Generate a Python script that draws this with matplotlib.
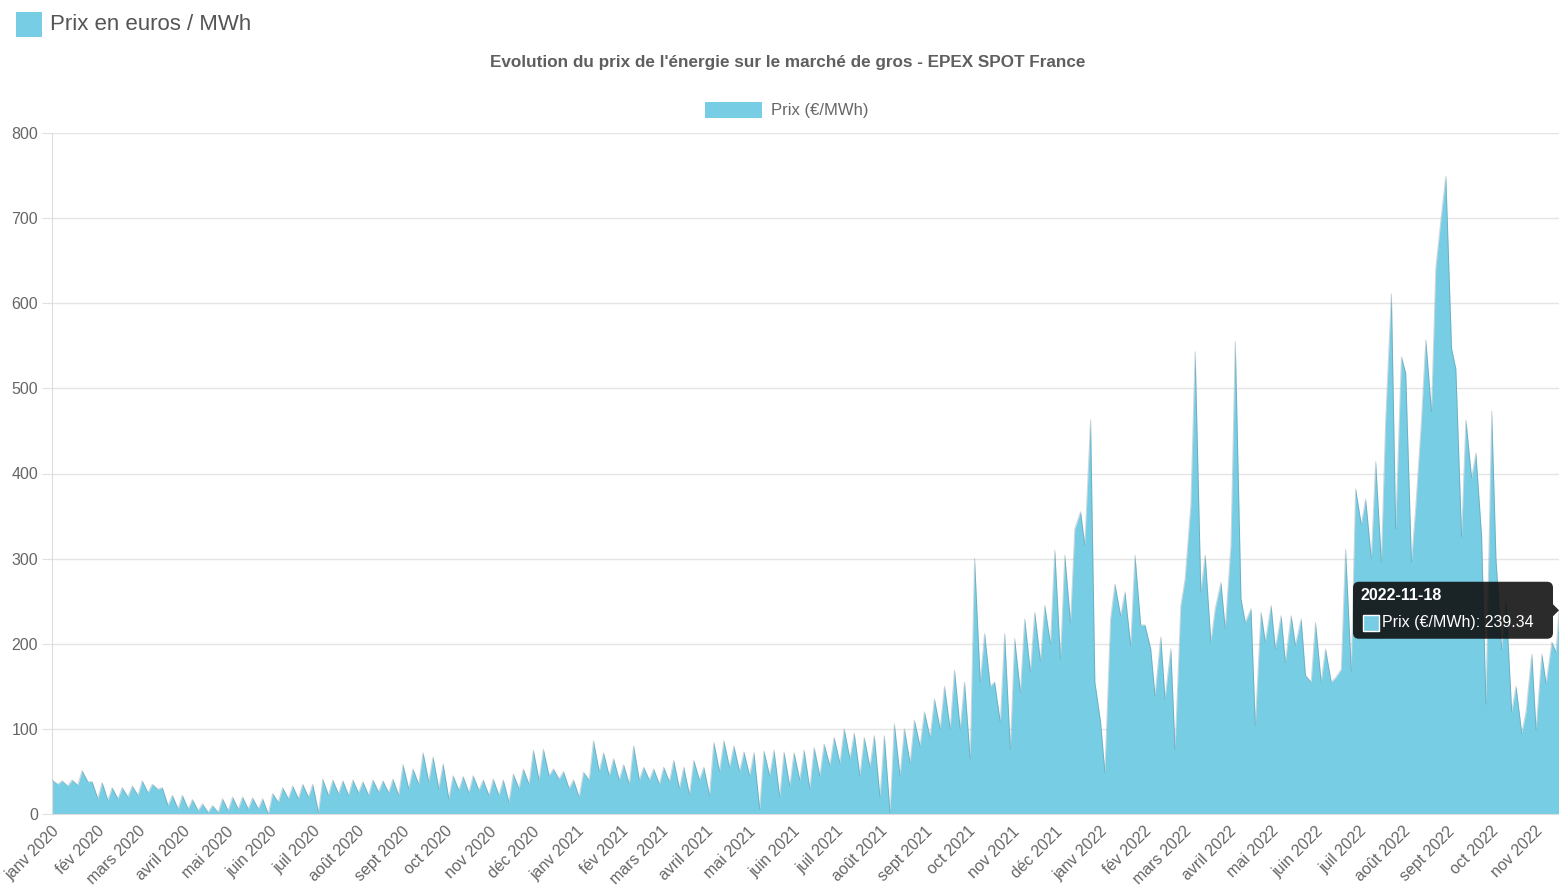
import matplotlib
matplotlib.use("Agg")
import matplotlib.pyplot as plt
import matplotlib.dates as mdates
from matplotlib.patches import FancyBboxPatch, Polygon, Rectangle
from matplotlib.transforms import IdentityTransform
import pandas as pd

plt.rcParams['font.family'] = ['Liberation Sans', 'DejaVu Sans']

# prix, deux relevés par semaine (mercredi / dimanche)
prix_mercredi = [
    40, 39, 40, 51, 38, 37, 31, 31, 33, 39, 35, 31, 22, 22, 17, 12, 10, 18, 20, 20,
    19, 18, 24, 31, 33, 35, 35, 41, 40, 39, 40, 38, 40, 39, 41, 58, 53, 72, 67, 59,
    45, 44, 45, 40, 41, 40, 47, 53, 75, 76, 53, 50, 40, 49, 86, 72, 65, 58, 80, 55,
    53, 55, 63, 55, 63, 55, 84, 86, 80, 73, 72, 74, 75, 73, 72, 75, 78, 82, 90, 100,
    95, 90, 92, 92, 106, 100, 110, 120, 135, 150, 169, 155, 300, 212, 155, 212, 206, 229, 237, 245,
    310, 304, 335, 316, 155, 49, 270, 261, 304, 222, 139, 135, 76, 276, 543, 304, 241, 218, 555, 225,
    104, 202, 194, 178, 198, 163, 225, 194, 160, 311, 382, 370, 414, 463, 335, 518, 360, 557, 641, 749,
    523, 463, 424, 129, 300, 250, 150, 120, 99, 153, 190,
]
prix_dimanche = [
    35, 33, 34, 38, 18, 16, 18, 20, 22, 25, 29, 10, 6, 6, 4, 2, 2, 4, 6, 6,
    6, 0, 14, 18, 18, 20, 2, 22, 24, 22, 25, 22, 26, 25, 22, 30, 35, 38, 30, 18,
    28, 25, 28, 22, 22, 14, 30, 35, 40, 45, 41, 30, 20, 40, 50, 45, 40, 35, 40, 40,
    35, 38, 30, 23, 40, 22, 50, 55, 50, 45, 6, 45, 20, 33, 40, 30, 45, 57, 60, 65,
    45, 55, 20, 2, 45, 60, 80, 90, 100, 100, 100, 65, 155, 150, 108, 76, 143, 167, 180, 200,
    182, 225, 355, 463, 108, 230, 233, 198, 222, 194, 208, 194, 245, 363, 261, 202, 272, 316, 253, 241,
    237, 245, 233, 233, 229, 155, 155, 155, 170, 168, 340, 300, 296, 611, 537, 296, 463, 473, 705, 547,
    326, 395, 326, 473, 193, 120, 95, 188, 188, 202,
]
dernier_jour = '2022-11-18'
dernier_prix = 239.34

mois = ['janv', 'fév', 'mars', 'avril', 'mai', 'juin', 'juil', 'août', 'sept', 'oct', 'nov', 'déc']

bleu = '#77cde3'
gris = '#666666'

mercredis = pd.date_range('2020-01-01', periods=len(prix_mercredi), freq='7D')
dimanches = pd.date_range('2020-01-05', periods=len(prix_dimanche), freq='7D')

dates = []
prix = []
for i, d in enumerate(mercredis):
    dates.append(mdates.date2num(d))
    prix.append(prix_mercredi[i])
    if i < len(dimanches):
        dates.append(mdates.date2num(dimanches[i]))
        prix.append(prix_dimanche[i])
dates.append(mdates.date2num(pd.Timestamp(dernier_jour)))
prix.append(dernier_prix)

W, H = 1559, 893
fig = plt.figure(figsize=(W / 100, H / 100), dpi=100)
ax = fig.add_axes([52 / W, 1 - 814 / H, 1507 / W, 681 / H])

ax.fill_between(dates, prix, 0, color=bleu, lw=0, zorder=2)
ax.plot(dates, prix, color=(0.25, 0.35, 0.4, 0.25), lw=0.7, zorder=3)

ax.set_xlim(dates[0], dates[-1])
ax.set_ylim(0, 800)
ax.set_yticks(range(0, 801, 100))
ax.grid(axis='y', color='#e5e5e5', lw=1, zorder=0)
ax.set_axisbelow(True)
for s in ['top', 'right']:
    ax.spines[s].set_visible(False)
ax.spines['left'].set_color('#dddddd')
ax.spines['bottom'].set_color('#dddddd')
ax.tick_params(axis='y', length=7, color='#e0e0e0', labelcolor=gris, labelsize=11.5, pad=3)

debuts = pd.date_range('2020-01-01', '2022-11-01', freq='MS')
ax.set_xticks([mdates.date2num(d) for d in debuts])
ax.set_xticklabels([f"{mois[d.month - 1]} {d.year}" for d in debuts],
                   rotation=45, ha='right', va='top', rotation_mode='anchor')
ax.tick_params(axis='x', length=0, labelcolor=gris, labelsize=11.5, pad=7)

px = IdentityTransform()

# légende en haut à gauche
fig.add_artist(Rectangle((16, H - 37), 26, 25, fc=bleu, ec='none', transform=px))
fig.text(50, H - 25, 'Prix en euros / MWh', transform=px, fontsize=16,
         color='#555555', va='center', ha='left')

# titre et légende du graphique
fig.text(788, H - 62, "Evolution du prix de l'énergie sur le marché de gros - EPEX SPOT France",
         transform=px, fontsize=12.3, fontweight='bold', color='#5f5f5f', ha='center', va='center')
fig.add_artist(Rectangle((705, H - 118), 57, 16, fc=bleu, ec='none', transform=px))
fig.text(771, H - 110, 'Prix (€/MWh)', transform=px, fontsize=12, color=gris,
         ha='left', va='center')

# infobulle sur le dernier point
tx, ty = ax.transData.transform((dates[-1], dernier_prix))
bw, bh = 200, 57
right = tx - 6
left = right - bw
bottom = ty - bh / 2
fig.add_artist(FancyBboxPatch((left, bottom), bw, bh, boxstyle='round,pad=0,rounding_size=6',
                              fc=(0.05, 0.05, 0.05, 0.88), ec='none', transform=px, zorder=10))
fig.add_artist(Polygon([(right, ty - 6), (tx, ty), (right, ty + 6)], closed=True,
                       fc=(0.05, 0.05, 0.05, 0.88), ec='none', transform=px, zorder=10))
fig.text(left + 8, bottom + bh - 14, dernier_jour, transform=px, fontsize=11.5,
         fontweight='bold', color='white', va='center', ha='left', zorder=11)
fig.add_artist(Rectangle((left + 10, bottom + 8), 16, 16, fc=bleu, ec='white', lw=1,
                         transform=px, zorder=11))
fig.text(left + 29, bottom + 16, f'Prix (€/MWh): {dernier_prix:.2f}', transform=px,
         fontsize=11.5, color='white', va='center', ha='left', zorder=11)

fig.savefig('out.png', dpi=100)
